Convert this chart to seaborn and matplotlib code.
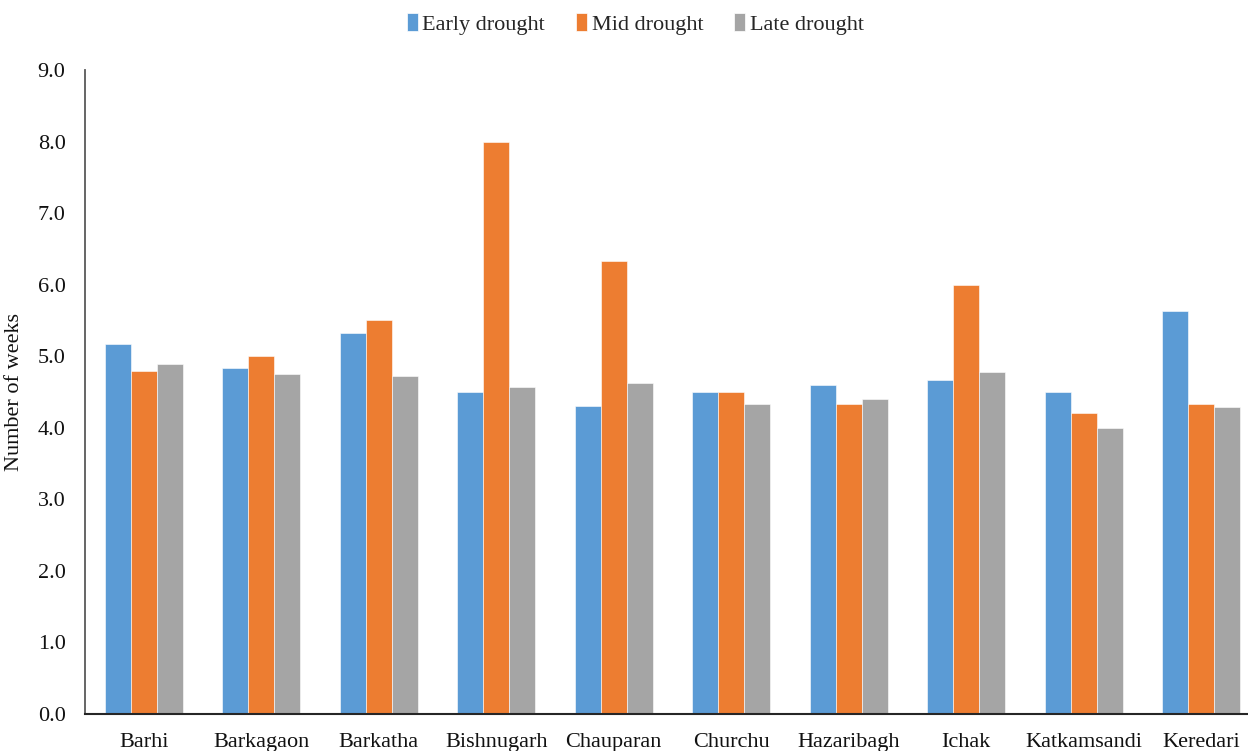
import numpy as np
import pandas as pd
import matplotlib
matplotlib.use("Agg")
import matplotlib.pyplot as plt
import seaborn as sns
from matplotlib.patches import Patch

blocks = ["Barhi", "Barkagaon", "Barkatha", "Bishnugarh", "Chauparan",
          "Churchu", "Hazaribagh", "Ichak", "Katkamsandi", "Keredari"]
early_drought = [5.17, 4.83, 5.33, 4.50, 4.30, 4.50, 4.60, 4.67, 4.50, 5.63]
mid_drought = [4.80, 5.00, 5.50, 8.00, 6.33, 4.50, 4.33, 6.00, 4.20, 4.33]
late_drought = [4.89, 4.75, 4.72, 4.57, 4.63, 4.33, 4.40, 4.78, 4.00, 4.29]
series_names = ["Early drought", "Mid drought", "Late drought"]
colors = ["#5B9BD5", "#ED7D31", "#A5A5A5"]

df = pd.DataFrame({
    "Block": blocks * 3,
    "Stage": np.repeat(series_names, len(blocks)),
    "Weeks": early_drought + mid_drought + late_drought,
})

sns.set_theme(style="white")
plt.rcParams["font.family"] = ["Liberation Serif", "DejaVu Serif"]

fig = plt.figure(figsize=(12.48, 7.51), dpi=100)
ax = fig.add_axes([85 / 1248, 37 / 751, 1175 / 1248, 644 / 751])

sns.barplot(data=df, x="Block", y="Weeks", hue="Stage", order=blocks,
            hue_order=series_names, palette=colors, saturation=1,
            width=0.664, edgecolor="#ffffff", linewidth=0.4,
            errorbar=None, ax=ax, legend=False)

ax.set_ylim(0, 9)
ax.set_xlim(-0.5, len(blocks) - 0.5)
ax.set_yticks(np.arange(0, 9.01, 1.0))
ax.set_yticklabels([f"{v:.1f}" for v in np.arange(0, 9.01, 1.0)], fontsize=16)
ax.tick_params(axis="y", length=0, pad=14, labelcolor="#111111")
ax.tick_params(axis="x", length=0, pad=14, labelsize=16, labelcolor="#111111")
ax.set_xlabel("")
ax.set_ylabel("Number of weeks", fontsize=16, labelpad=10, color="#111111")

for side in ["top", "right"]:
    ax.spines[side].set_visible(False)
ax.spines["left"].set_color("#595959")
ax.spines["left"].set_linewidth(1.3)
ax.spines["bottom"].set_color("#262626")
ax.spines["bottom"].set_linewidth(1.5)

handles = [Patch(facecolor=c, edgecolor="white", linewidth=0.5) for c in colors]
fig.legend(handles, series_names, loc="center", bbox_to_anchor=(0.509, 0.968),
           ncol=3, frameon=False, fontsize=16, handlelength=0.5,
           handleheight=0.85, handletextpad=0.2, columnspacing=1.4)

fig.savefig("out.png", dpi=100)
